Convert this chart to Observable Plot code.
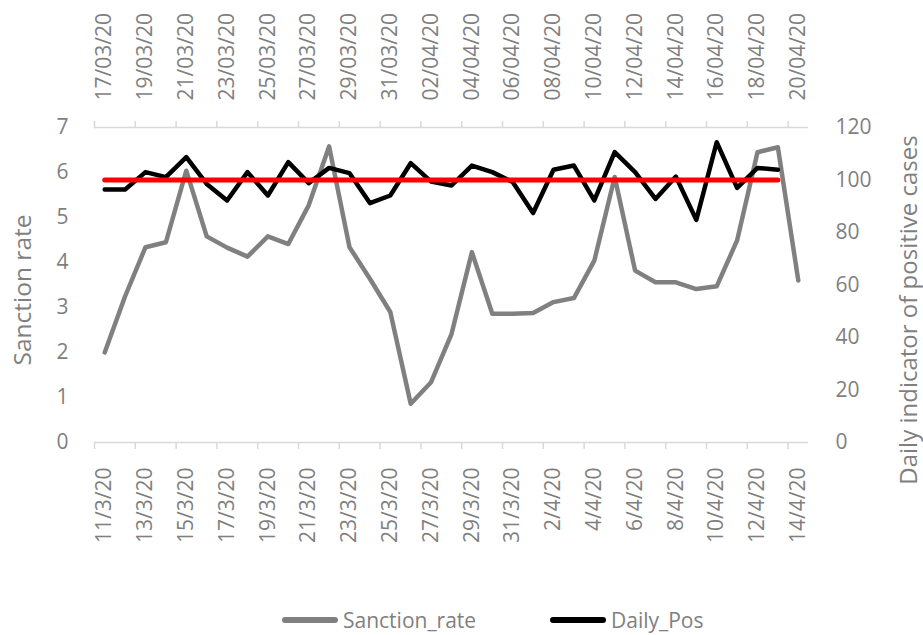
<!DOCTYPE html>
<html><head><meta charset="utf-8">
<script src="https://cdn.jsdelivr.net/npm/d3@7"></script>
<script src="https://cdn.jsdelivr.net/npm/@observablehq/plot@0.6"></script>
<style>
body{margin:0;background:#fff;font-family:"Open Sans",sans-serif;}
#wrap{width:923px;height:635px;position:relative;overflow:hidden;}
#legend{position:absolute;left:0;top:590px;width:923px;height:45px;}
.item{position:absolute;top:7px;height:45px;display:flex;align-items:center;font-size:21px;color:#7f7f7f;white-space:nowrap;}
.sw{width:56px;height:6px;border-radius:3px;margin-right:5px;}
</style></head><body>
<div id="wrap"><div id="chart"></div><div id="legend"></div></div>
<script>
const bottomDates = ["11/3/20","12/3/20","13/3/20","14/3/20","15/3/20","16/3/20","17/3/20","18/3/20","19/3/20","20/3/20","21/3/20","22/3/20","23/3/20","24/3/20","25/3/20","26/3/20","27/3/20","28/3/20","29/3/20","30/3/20","31/3/20","1/4/20","2/4/20","3/4/20","4/4/20","5/4/20","6/4/20","7/4/20","8/4/20","9/4/20","10/4/20","11/4/20","12/4/20","13/4/20","14/4/20"];
const topDates = ["17/03/20","18/03/20","19/03/20","20/03/20","21/03/20","22/03/20","23/03/20","24/03/20","25/03/20","26/03/20","27/03/20","28/03/20","29/03/20","30/03/20","31/03/20","01/04/20","02/04/20","03/04/20","04/04/20","05/04/20","06/04/20","07/04/20","08/04/20","09/04/20","10/04/20","11/04/20","12/04/20","13/04/20","14/04/20","15/04/20","16/04/20","17/04/20","18/04/20","19/04/20","20/04/20"];
const sanctionRate = [2.0,3.25,4.34,4.45,6.04,4.58,4.33,4.13,4.58,4.41,5.27,6.58,4.34,3.64,2.90,0.86,1.34,2.41,4.23,2.86,2.86,2.88,3.12,3.21,4.04,5.90,3.82,3.56,3.56,3.41,3.47,4.49,6.45,6.56,3.6];
const dailyPos = [96.4,96.4,103.0,101.1,108.7,98.5,92.2,103.0,94.1,106.8,98.8,104.6,102.6,91.2,94.1,106.4,99.4,97.9,105.5,103.0,99.2,87.4,103.9,105.5,92.2,110.6,103.0,92.8,101.3,84.8,114.4,97.0,104.6,103.9];
const threshold = 100;
const leftTicks = [0,1,2,3,4,5,6,7];
const rightTicks = [0,20,40,60,80,100,120];
const leftMax = 7, rightMax = 120;
const k = leftMax / rightMax;

const labelTicks = d3.range(0, bottomDates.length, 2);
const boundaries = d3.range(-0.5, bottomDates.length - 1, 2);

const chart = Plot.plot({
  width: 923, height: 590,
  marginLeft: 94, marginRight: 115, marginTop: 127, marginBottom: 148,
  style: {fontFamily: "'Open Sans', sans-serif", fontSize: "21px", color: "#7f7f7f", background: "white"},
  x: {type: "linear", domain: [-0.5, bottomDates.length - 0.5]},
  y: {domain: [0, leftMax]},
  marks: [
    Plot.ruleY([0, leftMax], {stroke: "#d9d9d9", strokeWidth: 1.5}),
    Plot.axisX(boundaries, {anchor: "bottom", tickSize: 7, tickFormat: () => "", stroke: "#d9d9d9", strokeWidth: 1.5, label: null}),
    Plot.axisX(boundaries, {anchor: "top", tickSize: 7, tickFormat: () => "", stroke: "#d9d9d9", strokeWidth: 1.5, label: null}),
    Plot.axisX(labelTicks, {anchor: "bottom", tickSize: 0, tickPadding: 25, tickRotate: -90, tickFormat: i => bottomDates[i], label: null}),
    Plot.axisX(labelTicks, {anchor: "top", tickSize: 0, tickPadding: 27, tickRotate: -90, tickFormat: i => topDates[i], label: null}),
    Plot.axisY(leftTicks, {anchor: "left", tickSize: 0, tickPadding: 26, label: null}),
    Plot.axisY(rightTicks.map(v => v * k), {anchor: "right", tickSize: 0, tickPadding: 27, tickFormat: v => String(Math.round(v / k)), label: null}),
    Plot.text(["Sanction rate"], {frameAnchor: "left", textAnchor: "middle", dx: -71, dy: 5, rotate: -90, fontSize: 24.5}),
    Plot.text(["Daily indicator of positive cases"], {frameAnchor: "right", textAnchor: "middle", dx: 101, dy: 25, rotate: -90, fontSize: 24}),
    Plot.lineY(sanctionRate, {x: (d, i) => i, y: d => d, stroke: "#808080", strokeWidth: 4.5}),
    Plot.lineY(dailyPos, {x: (d, i) => i, y: d => d * k, stroke: "#000000", strokeWidth: 4.5}),
    Plot.lineY(dailyPos, {x: (d, i) => i, y: () => threshold * k, stroke: "#ff0000", strokeWidth: 5})
  ]
});
document.getElementById("chart").appendChild(chart);

const legendItems = [
  {name: "Sanction_rate", color: "#808080", left: 282},
  {name: "Daily_Pos", color: "#000000", left: 550}
];
const legend = document.getElementById("legend");
for (const it of legendItems) {
  const div = document.createElement("div");
  div.className = "item";
  div.style.left = it.left + "px";
  const sw = document.createElement("span");
  sw.className = "sw";
  sw.style.background = it.color;
  const tx = document.createElement("span");
  tx.textContent = it.name;
  div.appendChild(sw); div.appendChild(tx);
  legend.appendChild(div);
}
</script>
</body></html>
